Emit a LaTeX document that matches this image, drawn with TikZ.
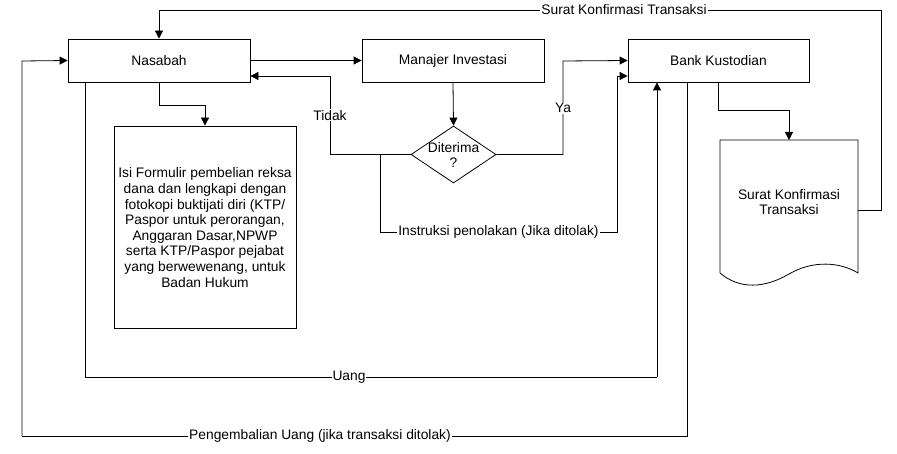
\documentclass[tikz,border=0pt]{standalone}
\usepackage{fontspec}
\setmainfont{Liberation Sans}
\usetikzlibrary{arrows.meta,shapes.geometric}
\begin{document}
\begin{tikzpicture}[x=1pt,y=-1pt,
  every node/.style={font=\fontsize{13.8}{15.6}\selectfont},
  proc/.style={draw,line width=0.8pt,rectangle,inner sep=0pt},
  arr/.style={line width=0.8pt,-{Triangle[length=8pt,width=8pt]}},
  ln/.style={line width=0.8pt},
  lbl/.style={fill=white,inner sep=1pt}]
\useasboundingbox (0,0) rectangle (897,454);
% boxes
\node[proc,minimum width=182pt,minimum height=43pt] (nas) at (159,60.5) {Nasabah};
\node[proc,minimum width=182pt,minimum height=43pt] (mi) at (453,60.5) {Manajer Investasi};
\node[proc,minimum width=181pt,minimum height=43pt] (bk) at (718.5,60.5) {Bank Kustodian};
\node[proc,minimum width=182pt,minimum height=202pt] (form) at (205,227) {};
\node[align=center] (formtext) at (205,227.5) {Isi Formulir pembelian reksa\\dana dan lengkapi dengan\\fotokopi buktijati diri (KTP/\\Paspor untuk perorangan,\\Anggaran Dasar,NPWP\\serta KTP/Paspor pejabat\\yang berwewenang, untuk\\Badan Hukum};
\node[draw,line width=0.8pt,diamond,minimum width=85pt,minimum height=57pt,inner sep=0pt] (dec) at (453.5,154.5) {};
\node[align=center,inner sep=0pt] (dectext) at (453.5,155) {Diterima\\?};
% document shape
\coordinate (doctop) at (789,140);
\draw[ln] (720,140) -- (858,140) -- (858,273)
  .. controls (840,262) and (813,260) .. (789,274)
  .. controls (765,288) and (740,290) .. (720,273) -- cycle;
\node[align=center] (doctext) at (789,202) {Surat Konfirmasi\\Transaksi};
\coordinate (docright) at (858,210);
% connectors
\draw[arr] (nas.east) -- (mi.west);
\draw[arr] (mi.south) -- (dec.north);
\draw[arr] (dec.west) -- (330,154.5) -- node[lbl]{Tidak} (330,76) -- (nas.east |- 330,76);
\draw[arr] (dec.east) -- (563,154.5) -- node[lbl]{Ya} (563,61) -- (bk.west);
\draw[arr] (380,154.5) -- (380,232) -- node[lbl]{Instruksi penolakan (Jika ditolak)} (617,232) -- (617,76) -- (bk.west |- 617,76);
\draw[arr] (nas.south) -- (159,105) -- (205,105) -- (form.north);
\draw[ln] (nas.south -| 85,0) -- (85,377) -- (657,377);
\node[lbl] (uanglbl) at (349,377) {Uang};
\draw[arr] (657,377) -- (bk.south -| 657,0);
\draw[ln] (bk.south -| 687,0) -- (687,436) -- (22,436);
\node[lbl] (pglbl) at (320,436) {Pengembalian Uang (jika transaksi ditolak)};
\draw[arr] (22,436) -- (22,61) -- (nas.west);
\draw[arr] (bk.south -| 718,0) -- (718,110) -- (789,110) -- (doctop);
\draw[ln] (docright) -- (881,210) -- (881,10) -- (159,10);
\node[lbl] (sklbl) at (624,10) {Surat Konfirmasi Transaksi};
\draw[arr] (159,10) -- (nas.north);
\end{tikzpicture}
\end{document}
